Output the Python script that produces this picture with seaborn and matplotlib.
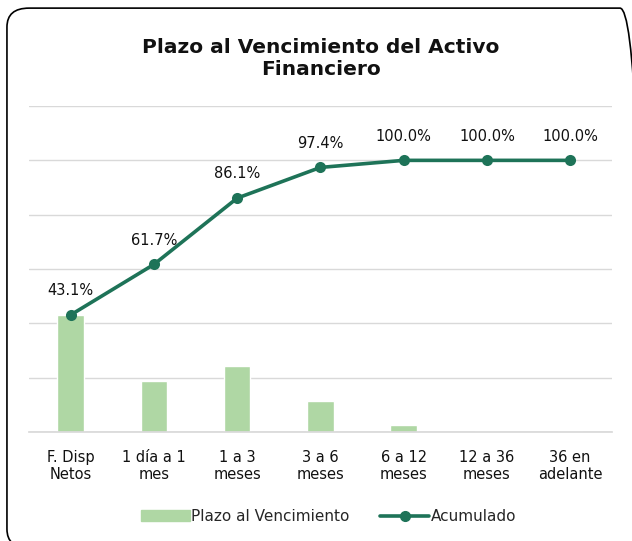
import seaborn as sns
import numpy as np
import matplotlib.pyplot as plt
import pandas as pd
from matplotlib.patches import FancyBboxPatch
from matplotlib.lines import Line2D
from matplotlib.patches import Patch

categorias = ['F. Disp\nNetos', '1 día a 1\nmes', '1 a 3\nmeses', '3 a 6\nmeses',
              '6 a 12\nmeses', '12 a 36\nmeses', '36 en\nadelante']
plazo = [43.1, 18.6, 24.4, 11.3, 2.6, 0.0, 0.0]
acumulado = [43.1, 61.7, 86.1, 97.4, 100.0, 100.0, 100.0]

sns.set_theme(style='white')
plt.rcParams['font.family'] = ['DejaVu Sans']

verde_barra = '#afd7a4'
verde_linea = '#1e7358'

df = pd.DataFrame({'cat': categorias, 'plazo': plazo, 'acum': acumulado})

fig = plt.figure(figsize=(6.32, 5.41), dpi=100)
ax = fig.add_axes([0.046, 0.2015, 0.922, 0.6025])

sns.barplot(data=df, x='cat', y='plazo', color=verde_barra, width=0.32,
            saturation=1, ax=ax)
sns.lineplot(data=df, x='cat', y='acum', color=verde_linea, linewidth=2.6,
             marker='o', markersize=8, markeredgewidth=0, sort=False, ax=ax)

for i, v in enumerate(acumulado):
    ax.annotate(f'{v:.1f}%', (i, v), xytext=(0, 12), textcoords='offset points',
                ha='center', va='bottom', fontsize=10.5, color='#111111')

ax.set_ylim(0, 120)
ax.set_xlim(-0.5, 6.5)
ax.set_yticks(np.arange(0, 121, 20))
ax.yaxis.grid(True, color='#d9d9d9', linewidth=1)
ax.set_axisbelow(True)
ax.tick_params(axis='y', left=False, labelleft=False)
ax.tick_params(axis='x', bottom=False, labelsize=10.5, pad=7, colors='#111111')
ax.set_xlabel('')
ax.set_ylabel('')
for s in ['top', 'right', 'left']:
    ax.spines[s].set_visible(False)
ax.spines['bottom'].set_color('#d9d9d9')

fig.text(0.508, 0.892, 'Plazo al Vencimiento del Activo\nFinanciero', ha='center',
         va='center', fontsize=14.5, fontweight='bold', color='#111111',
         linespacing=1.25)

handles = [Patch(color=verde_barra, label='Plazo al Vencimiento'),
           Line2D([0], [0], color=verde_linea, lw=2.6, marker='o', markersize=7,
                  label='Acumulado')]
fig.legend(handles=handles, loc='center', bbox_to_anchor=(0.52, 0.045), ncol=2,
           frameon=False, fontsize=11, handlelength=3.2, handletextpad=0.1,
           columnspacing=2.0)

# marco redondeado que se sale por la derecha y por abajo
border = FancyBboxPatch((0.011, -0.013), 1.005, 0.998,
                        boxstyle='round,pad=0,rounding_size=0.035',
                        transform=fig.transFigure, fill=False,
                        edgecolor='#000000', linewidth=1.2)
fig.patches.append(border)

fig.savefig('out.png', dpi=100)
